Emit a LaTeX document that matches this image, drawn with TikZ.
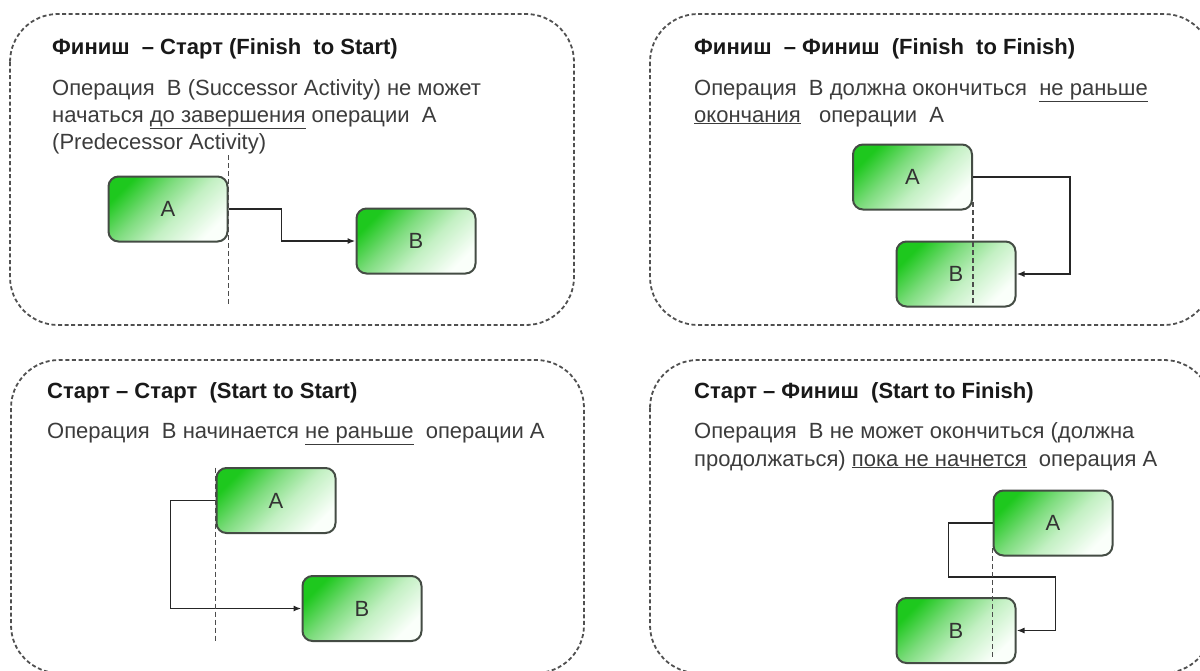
\documentclass[tikz,border=0pt]{standalone}
\usepackage{fontspec}
\setmainfont{Liberation Sans}
\usetikzlibrary{arrows.meta}
\definecolor{boxgreen}{RGB}{30,200,30}
\definecolor{boxmid}{RGB}{125,220,125}
\definecolor{boxpale}{RGB}{195,240,195}
\definecolor{boxlight}{RGB}{250,255,250}
\definecolor{boxedge}{RGB}{68,76,68}
\definecolor{panelline}{RGB}{80,80,80}
\definecolor{bodytext}{RGB}{60,60,60}
% diagonal fill of the activity boxes: saturated green in the upper left corner, fading to white
\pgfdeclareverticalshading{actfill}{100bp}{color(0bp)=(boxlight); color(25bp)=(boxlight); color(44bp)=(boxpale); color(59bp)=(boxmid); color(75bp)=(boxgreen); color(100bp)=(boxgreen)}
\tikzset{
  panel/.style={draw=panelline, line width=1.8pt, dash pattern=on 4pt off 2.6pt, rounded corners=48pt},
  activity/.style={draw=boxedge, line width=2pt, rounded corners=10pt,
    minimum width=119pt, minimum height=65pt, inner sep=0pt,
    shading=actfill, shading angle=45,
    font=\fontsize{22}{26}\selectfont, text=black!80},
  link/.style={draw=black!85, line width=1.7pt, -{Latex[length=8pt,width=6pt]}},
  guide/.style={draw=black!70, line width=1.8pt, dash pattern=on 5pt off 3pt},
  heading/.style={anchor=base west, inner sep=0pt, font=\bfseries\fontsize{22}{26}\selectfont, text=black!90},
  body/.style={anchor=base west, inner sep=0pt, font=\fontsize{22}{27}\selectfont, text=bodytext},
}
\begin{document}
\begin{tikzpicture}[x=1pt,y=-1pt]
\useasboundingbox (0,0) rectangle (1200,670);
\fill[white] (0,0) rectangle (1200,670);

% four dashed frames
\draw[panel] (10,14) rectangle (574,325);
\draw[panel] (650,14) rectangle (1212,325);
\draw[panel] (11,360) rectangle (584,673);
\draw[panel] (650,360) rectangle (1212,673);

% Finish to Start
\node[heading] (t1) at (52,54) {Финиш\ \ – Старт (Finish\ \ to Start)};
\node[body] (l1a) at (52,95) {Операция\ \ B (Successor Activity) не может};
\node[body] (l1b) at (52,122) {начаться \underline{до завершения} операции\ \ A};
\node[body] (l1c) at (52,149) {(Predecessor Activity)};
\node[activity] (a1) at (168,209) {A};
\node[activity] (b1) at (416,241) {B};
\draw[link] (a1.east) -- ++(53,0) |- (b1.west);
\draw[guide] (a1.east) ++(0,-54) -- ++(0,150);

% Finish to Finish
\node[heading] (t2) at (694,54) {Финиш\ \ – Финиш\ \ (Finish\ \ to Finish)};
\node[body] (l2a) at (694,95) {Операция\ \ B должна окончиться\ \ \underline{не раньше}};
\node[body] (l2b) at (694,122) {\underline{окончания}\ \ \ операции\ \ A};
\node[activity] (a2) at (912.5,177) {A};
\node[activity] (b2) at (956,274) {B};
\draw[link] (a2.east) -- ++(97,0) |- (b2.east);
\draw[guide] (a2.east) ++(0,25) -- ++(0,103);

% Start to Start
\node[heading] (t3) at (47,398) {Старт – Старт\ \ (Start to Start)};
\node[body] (l3a) at (47,438) {Операция\ \ B начинается \underline{не раньше}\ \ операции A};
\node[activity] (a3) at (276,500.5) {A};
\node[activity] (b3) at (362,608.5) {B};
\draw[link] (a3.west) -- ++(-45,0) |- (b3.west);
\draw[guide] (a3.west) ++(0,-33) -- ++(0,174);

% Start to Finish
\node[heading] (t4) at (694,398) {Старт – Финиш\ \ (Start to Finish)};
\node[body] (l4a) at (694,438) {Операция\ \ B не может окончиться (должна};
\node[body] (l4b) at (694,466) {продолжаться) \underline{пока не начнется}\ \ операция A};
\node[activity] (a4) at (1053,523) {A};
\node[activity] (b4) at (956,630.5) {B};
\draw[link] (a4.west) -- ++(-44,0) -- ++(0,54) -- ++(107,0) |- (b4.east);
\draw[guide] (a4.west) ++(0,25) -- ++(0,110);
\end{tikzpicture}
\end{document}
